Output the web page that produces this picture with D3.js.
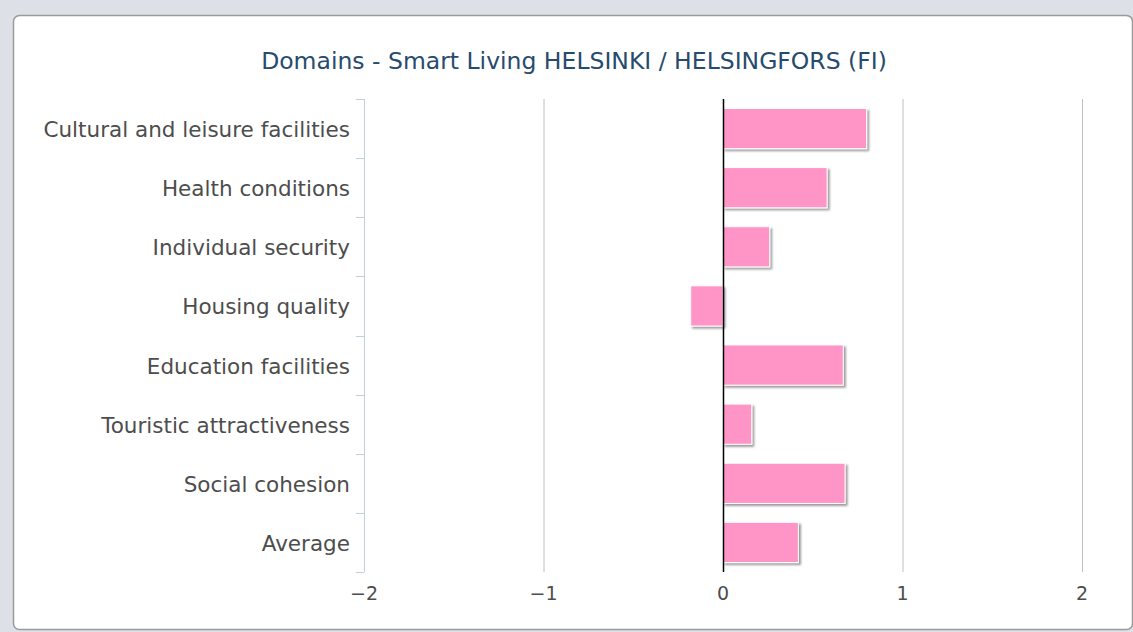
<!DOCTYPE html>
<html>
<head>
<meta charset="utf-8">
<script src="https://cdn.jsdelivr.net/npm/d3@7"></script>
<style>
  html, body { margin: 0; padding: 0; background: #dde0e6; }
  #chart { width: 1133px; height: 632px; }
  text { font-family: "DejaVu Sans", sans-serif; }
</style>
</head>
<body>
<div id="chart"></div>
<script>
// data
const categories = ["Cultural and leisure facilities", "Health conditions", "Individual security",
  "Housing quality", "Education facilities", "Touristic attractiveness", "Social cohesion", "Average"];
const values = [0.80, 0.58, 0.26, -0.18, 0.67, 0.16, 0.68, 0.42];
const xTicks = [-2, -1, 0, 1, 2];
const title = "Domains - Smart Living HELSINKI / HELSINGFORS (FI)";

const W = 1133, H = 632;
const margin = {top: 99, right: 51, bottom: 60, left: 364};

const svg = d3.select("#chart").append("svg")
  .attr("width", W).attr("height", H);

// drop shadow for bars
const defs = svg.append("defs");
const f = defs.append("filter").attr("id", "shadow")
  .attr("x", "-10%").attr("y", "-20%").attr("width", "130%").attr("height", "160%");
f.append("feDropShadow").attr("dx", 2).attr("dy", 2).attr("stdDeviation", 1.3)
  .attr("flood-color", "#000").attr("flood-opacity", 0.4);

// card
svg.append("rect")
  .attr("x", 13.5).attr("y", 15.5).attr("width", W - 14).attr("height", H - 18)
  .attr("rx", 6).attr("fill", "#fff").attr("stroke", "#9a9a9a").attr("stroke-width", 1.5);

svg.append("text")
  .attr("x", 574).attr("y", 69)
  .attr("text-anchor", "middle")
  .attr("fill", "#274b6d")
  .style("font-size", "23.5px")
  .text(title);

const x = d3.scaleLinear().domain([-2, 2]).range([margin.left, W - margin.right]);
const y = d3.scaleBand().domain(categories).range([margin.top, H - margin.bottom]).paddingInner(0.32).paddingOuter(0.16);
const yEdges = d3.scaleLinear().domain([0, categories.length]).range([margin.top, H - margin.bottom]);

// grid lines
svg.append("g").selectAll("line").data(xTicks.filter(d => d !== -2 && d !== 0)).join("line")
  .attr("x1", d => x(d) + 0.5).attr("x2", d => x(d) + 0.5)
  .attr("y1", margin.top).attr("y2", H - margin.bottom)
  .attr("stroke", "#c0c0c0").attr("stroke-width", 1);

// y axis line and ticks
svg.append("line")
  .attr("x1", margin.left + 0.5).attr("x2", margin.left + 0.5)
  .attr("y1", margin.top).attr("y2", H - margin.bottom)
  .attr("stroke", "#c0d0e0");
svg.append("g").selectAll("line").data(d3.range(categories.length + 1)).join("line")
  .attr("x1", margin.left - 8).attr("x2", margin.left)
  .attr("y1", d => Math.round(yEdges(d)) + 0.5).attr("y2", d => Math.round(yEdges(d)) + 0.5)
  .attr("stroke", "#c0d0e0");

// category labels
svg.append("g").selectAll("text").data(categories).join("text")
  .attr("x", margin.left - 14)
  .attr("y", d => y(d) + y.bandwidth() / 2 + 1)
  .attr("dy", "0.35em")
  .attr("text-anchor", "end")
  .attr("fill", "#4d4d4d")
  .style("font-size", "21.5px")
  .text(d => d);

// x tick labels
svg.append("g").selectAll("text").data(xTicks).join("text")
  .attr("x", d => x(d))
  .attr("y", H - margin.bottom + 28)
  .attr("text-anchor", "middle")
  .attr("fill", "#4d4d4d")
  .style("font-size", "19px")
  .text(d => d < 0 ? "\u2212" + Math.abs(d) : d);

// bars
svg.append("g").selectAll("rect").data(values).join("rect")
  .attr("x", d => x(Math.min(0, d)))
  .attr("y", (d, i) => y(categories[i]))
  .attr("width", d => Math.abs(x(d) - x(0)))
  .attr("height", y.bandwidth())
  .attr("fill", "#ff94c6")
  .attr("stroke", "#fff")
  .attr("stroke-width", 1)
  .attr("filter", "url(#shadow)");

// zero line
svg.append("line")
  .attr("x1", x(0) + 0.5).attr("x2", x(0) + 0.5)
  .attr("y1", margin.top).attr("y2", H - margin.bottom)
  .attr("stroke", "#000").attr("stroke-width", 1.5);
</script>
</body>
</html>
